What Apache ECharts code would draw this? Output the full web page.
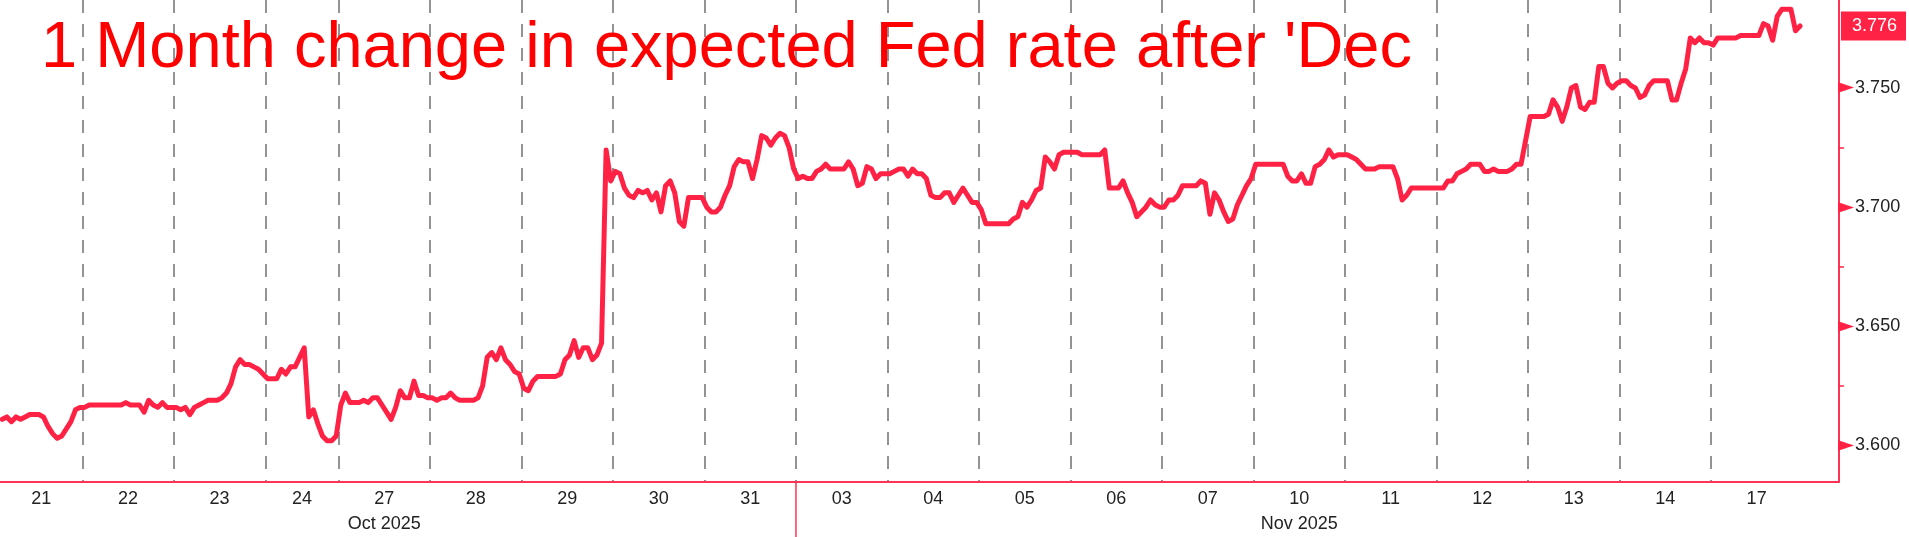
<!DOCTYPE html>
<html>
<head>
<meta charset="utf-8">
<script src="https://cdn.jsdelivr.net/npm/echarts@6/dist/echarts.min.js"></script>
<style>
html,body{margin:0;padding:0;background:#ffffff;}
#c{width:1909px;height:537px;}
</style>
</head>
<body>
<div id="c"></div>
<script>
// ---------- DATA ----------
const titleText = "1 Month change in expected Fed rate after 'Dec";
const dayLabels = ['21','22','23','24','27','28','29','30','31','03','04','05','06','07','10','11','12','13','14','17'];
const monthLabels = {'27': 'Oct 2025', '10': 'Nov 2025'};
const monthStartDay = '03';

const d21 = [3.611,3.612,3.610,3.612,3.611,3.612,3.613,3.613,3.613,3.612,3.608,3.605,3.603,3.604,3.607,3.610,3.615,3.616];
const d22 = [3.616,3.617,3.617,3.617,3.617,3.617,3.617,3.617,3.617,3.618,3.617,3.617,3.617,3.614,3.619,3.617,3.616,3.618,3.616,3.616];
const d23 = [3.616,3.615,3.616,3.613,3.616,3.617,3.618,3.619,3.619,3.619,3.620,3.622,3.626,3.633,3.636,3.634,3.634,3.633,3.632,3.630];
const d24 = [3.628,3.628,3.628,3.632,3.630,3.633,3.633,3.637,3.641,3.612,3.615,3.609,3.604,3.602,3.602,3.604];
const d27 = [3.617,3.622,3.618,3.618,3.618,3.619,3.618,3.620,3.620,3.617,3.614,3.611,3.616,3.623,3.620,3.620,3.627,3.621,3.621,3.620];
const d28 = [3.620,3.619,3.620,3.620,3.622,3.620,3.619,3.619,3.619,3.619,3.620,3.625,3.637,3.639,3.636,3.641,3.636,3.634,3.631,3.630];
const d29 = [3.624,3.623,3.627,3.629,3.629,3.629,3.629,3.629,3.630,3.636,3.638,3.644,3.637,3.641,3.641,3.636,3.638,3.643,3.724,3.711];
const d30 = [3.715,3.714,3.708,3.705,3.704,3.707,3.706,3.707,3.703,3.706,3.698,3.709,3.711,3.706,3.694,3.692,3.704,3.704,3.704,3.704];
const d31 = [3.700,3.698,3.698,3.700,3.705,3.709,3.717,3.720,3.719,3.719,3.712,3.720,3.730,3.729,3.726,3.729,3.731,3.730,3.725,3.716];
const d03 = [3.712,3.713,3.712,3.712,3.715,3.716,3.718,3.716,3.716,3.716,3.716,3.719,3.716,3.709,3.710,3.717,3.716,3.712,3.714,3.714];
const d04 = [3.714,3.715,3.716,3.716,3.713,3.716,3.714,3.714,3.712,3.705,3.704,3.704,3.706,3.706,3.702,3.705,3.708,3.705,3.702,3.702];
const d05 = [3.699,3.693,3.693,3.693,3.693,3.693,3.693,3.695,3.696,3.702,3.700,3.703,3.707,3.708,3.721,3.719,3.716,3.722,3.723,3.723];
const d06 = [3.723,3.723,3.722,3.722,3.722,3.722,3.722,3.724,3.708,3.708,3.708,3.711,3.706,3.702,3.696,3.698,3.700,3.703,3.701,3.700];
const d07 = [3.700,3.703,3.703,3.705,3.709,3.709,3.709,3.709,3.711,3.710,3.697,3.706,3.703,3.698,3.694,3.695,3.701,3.705,3.709,3.712];
const d10 = [3.718,3.718,3.718,3.718,3.718,3.718,3.718,3.713,3.711,3.711,3.714,3.710,3.710,3.717,3.718,3.720,3.724,3.721,3.722,3.722];
const d11 = [3.722,3.721,3.720,3.718,3.716,3.716,3.716,3.717,3.717,3.717,3.717,3.712,3.703,3.705,3.708,3.708,3.708,3.708,3.708,3.708];
const d12 = [3.708,3.708,3.711,3.711,3.714,3.715,3.716,3.718,3.718,3.718,3.715,3.715,3.716,3.715,3.715,3.715,3.716,3.718,3.718,3.728];
const d13 = [3.738,3.738,3.738,3.738,3.739,3.745,3.742,3.736,3.742,3.750,3.751,3.742,3.741,3.744,3.744,3.759,3.759,3.752,3.750,3.752];
const d14 = [3.753,3.753,3.751,3.750,3.746,3.747,3.751,3.753,3.753,3.753,3.753,3.745,3.745,3.752,3.758,3.771,3.769,3.771,3.769,3.769];
const d17 = [3.768,3.771,3.771,3.771,3.771,3.771,3.772,3.772,3.772,3.772,3.772,3.777,3.776,3.770,3.780,3.783,3.783,3.783,3.774,3.776];

const dayValues = [d21,d22,d23,d24,d27,d28,d29,d30,d31,d03,d04,d05,d06,d07,d10,d11,d12,d13,d14,d17];
const trailingEmptySlots = 8;          // space left after the last session
const yTickValues = [3.600, 3.650, 3.700, 3.750];
const yMinorValues = [3.625, 3.675, 3.725];
const yMin = 3.5847, yMax = 3.7869;
const lastValue = 3.776;
const lastValueText = '3.776';

// ---------- BUILD ----------
const cats = [], vals = [], dayStart = [], labelAt = {};
dayValues.forEach(function (arr, di) {
  const s = cats.length;
  dayStart.push(s);
  const n = arr.length + (di === dayValues.length - 1 ? trailingEmptySlots : 0);
  labelAt[s + Math.min(arr.length, 20) / 2 - 1] = dayLabels[di];
  for (let i = 0; i < n; i++) {
    cats.push(dayLabels[di] + '_' + i);
    vals.push(i < arr.length ? arr[i] : null);
  }
});
const boundarySet = new Set(dayStart);   // includes 0 (hidden as the min line)
const novStart = dayStart[dayLabels.indexOf(monthStartDay)];

const RED = '#ff2244';
const AXIS_RED = '#ff3355';
const FONT = 'Liberation Sans';

const chart = echarts.init(document.getElementById('c'), null, {renderer: 'canvas'});
chart.setOption({
  animation: false,
  backgroundColor: '#ffffff',
  title: {
    text: titleText,
    left: 36, top: 12,
    textStyle: {color: '#ff0000', fontFamily: FONT, fontSize: 65, fontWeight: 'normal'}
  },
  grid: {left: 0, right: 67, top: 0, bottom: 49, containLabel: false},
  xAxis: {
    type: 'category',
    data: cats,
    boundaryGap: true,
    axisLine: {show: true, lineStyle: {color: AXIS_RED, width: 2}},
    axisTick: {show: false},
    axisLabel: {
      interval: function (i) { return labelAt[i] !== undefined; },
      formatter: function (v, i) {
        const d = labelAt[i];
        return monthLabels[d] ? d + '\n' + monthLabels[d] : d;
      },
      color: '#222', fontFamily: FONT, fontSize: 18, lineHeight: 25, margin: 5,
      padding: [0, 0, 0, 4.6]
    },
    splitLine: {
      show: true,
      interval: function (i) { return boundarySet.has(i); },
      showMinLine: false, showMaxLine: false,
      lineStyle: {color: '#707070', width: 1.5, type: [13, 11]}
    }
  },
  yAxis: [{
    type: 'value', position: 'right',
    min: yMin, max: yMax,
    axisLine: {show: true, lineStyle: {color: AXIS_RED, width: 2}},
    axisTick: {show: true, customValues: yMinorValues, length: 5, lineStyle: {color: RED, width: 1.5}},
    splitLine: {show: false},
    axisLabel: {
      customValues: yTickValues,
      margin: -1,
      formatter: function (v) { return '{t|\u25BA}{n|' + v.toFixed(3) + '}'; },
      rich: {
        t: {color: RED, fontFamily: 'DejaVu Sans', fontSize: 21, padding: [0, 1, 0, 0]},
        n: {color: '#222', fontFamily: FONT, fontSize: 18}
      }
    }
  }, {
    type: 'value', position: 'right',
    min: yMin, max: yMax,
    axisLine: {show: false}, axisTick: {show: false}, splitLine: {show: false},
    axisLabel: {
      customValues: [lastValue],
      margin: 2,
      formatter: function () { return lastValueText; },
      color: '#ffffff', backgroundColor: RED,
      fontFamily: FONT, fontSize: 18,
      padding: [6, 9, 5, 11]
    }
  }],
  series: [{
    type: 'line',
    data: vals,
    yAxisIndex: 0,
    showSymbol: false,
    symbol: 'none',
    connectNulls: false,
    lineStyle: {color: RED, width: 5, join: 'round', cap: 'round'},
    itemStyle: {color: RED}
  }]
});

// month separator below the axis, at the boundary between Oct and Nov
const xa = chart.convertToPixel({xAxisIndex: 0}, cats[novStart]);
const xb = chart.convertToPixel({xAxisIndex: 0}, cats[novStart - 1]);
const xm = (xa + xb) / 2;
const yb = chart.convertToPixel({yAxisIndex: 0}, yMin);
chart.setOption({
  graphic: [{
    type: 'line',
    shape: {x1: xm, y1: yb, x2: xm, y2: 537},
    style: {stroke: AXIS_RED, lineWidth: 1.5}
  }]
});
</script>
</body>
</html>
